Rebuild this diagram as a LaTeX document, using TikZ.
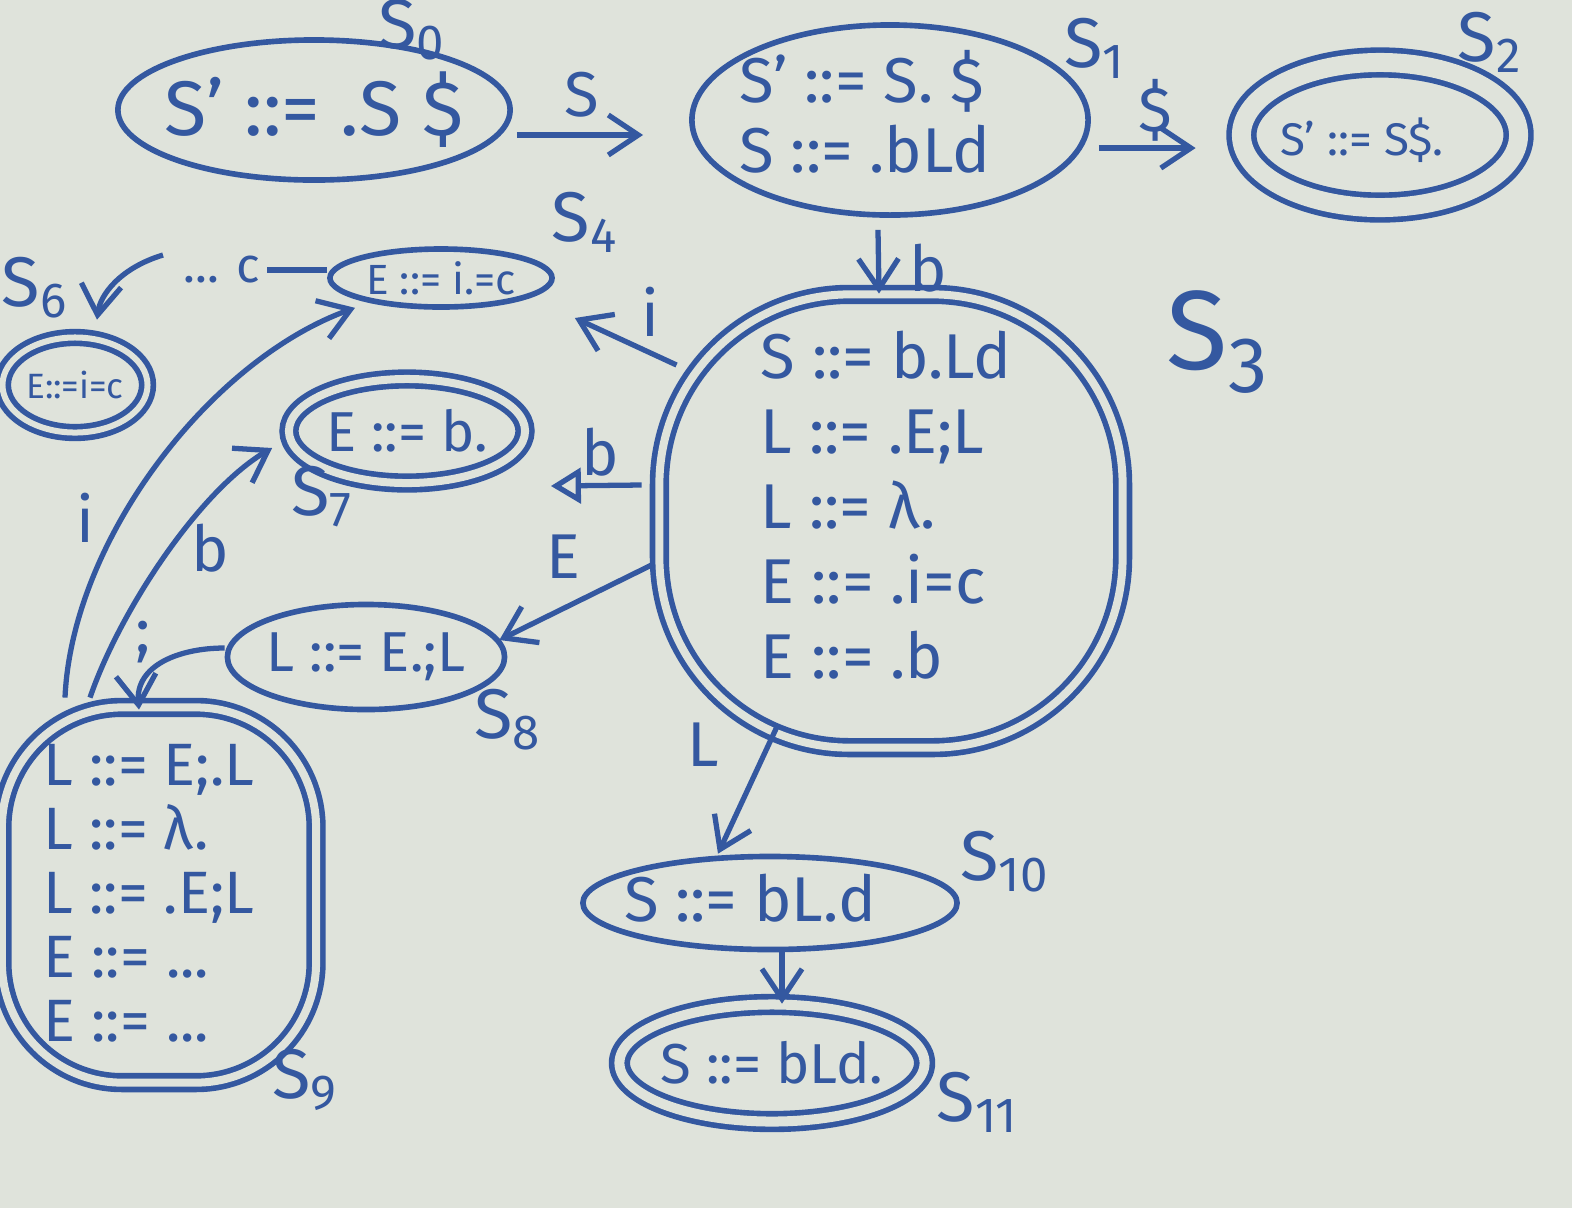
\documentclass[tikz,border=0pt]{standalone}
\usepackage{fontspec}
\setmainfont{Fira Sans}
\usetikzlibrary{shapes.geometric,arrows.meta}
\definecolor{ink}{RGB}{52,88,160}
\definecolor{board}{RGB}{223,227,219}
\newcommand\fsz[2]{\fontsize{#1}{#2}\selectfont}
\begin{document}
\begin{tikzpicture}[x=0.01cm,y=-0.01cm,
  st/.style={draw=ink,line width=1.6pt,ellipse,inner sep=0pt},
  acc/.style={st,double=board,double distance=#1},
  acc/.default=1.2mm,
  blob/.style={draw=ink,line width=1.6pt,rectangle,rounded corners=1.3cm,double=board,double distance=0.8mm,inner sep=0pt},
  txt/.style={text=ink,inner sep=0pt,align=left},
  edge/.style={draw=ink,line width=1.5pt,-{Straight Barb[length=3mm,width=4mm]}},
  link/.style={draw=ink,line width=1.5pt},
  elab/.style={text=ink,font=\fsz{18}{20}},
  slab/.style={text=ink,font=\fsz{20}{22}}]
\fill[board] (0,0) rectangle (1572,1208);
\useasboundingbox (0,0) rectangle (1572,1208);

% states
\node[st,minimum width=3.92cm,minimum height=1.4cm] (S0) at (314,110) {};
\node[txt,font=\fsz{22}{26}] (S0t) at (S0) {S' ::= .S \$};

\node[st,minimum width=3.96cm,minimum height=1.9cm] (S1) at (890,120) {};
\node[txt,font=\fsz{18}{20}] (S1t) at ([shift={(-25,-8)}]S1.center) {S' ::= S. \$\\S ::= .bLd};

\node[acc=1.9mm,minimum width=2.77cm,minimum height=1.45cm] (S2) at (1380,135) {};
\node[txt,font=\fsz{13}{15}] (S2t) at ([shift={(-18,5)}]S2.center) {S' ::= S\$.};

\node[blob,rounded corners=1.9cm,minimum width=4.63cm,minimum height=4.53cm] (S3) at (891,521) {};
\node[txt,font=\fsz{18}{21.3}] (S3t) at ([shift={(-5,-16)}]S3.center) {S ::= b.Ld\\L ::= .E;L\\L ::= λ.\\E ::= .i=c\\E ::= .b};

\node[st,minimum width=2.22cm,minimum height=0.58cm] (S4) at (441,278) {};
\node[txt,font=\fsz{12}{14}] (S4t) at (S4) {E ::= i.=c};

\node[acc=0.6mm,minimum width=1.45cm,minimum height=0.95cm] (S6) at (75,385) {};
\node[txt,font=\fsz{10}{12}] (S6t) at (S6) {E::=i=c};

\node[acc=0.8mm,minimum width=2.36cm,minimum height=1.04cm] (S7) at (407,431) {};
\node[txt,font=\fsz{16}{18}] (S7t) at (S7) {E ::= b.};

\node[st,minimum width=2.77cm,minimum height=1.05cm] (S8) at (366,657) {};
\node[txt,font=\fsz{16}{18}] (S8t) at (S8) {L ::= E.;L};

\node[blob,rounded corners=1.2cm,minimum width=3.14cm,minimum height=3.75cm] (S9) at (159,895) {};
\node[txt,font=\fsz{17}{18.2}] (S9t) at ([shift={(-10,-2)}]S9.center) {L ::= E;.L\\L ::= λ.\\L ::= .E;L\\E ::= ...\\E ::= ...};

\node[st,minimum width=3.74cm,minimum height=0.93cm] (S10) at (770,903) {};
\node[txt,font=\fsz{18}{20}] (S10t) at ([shift={(-20,-5)}]S10.center) {S ::= bL.d};

\node[acc=1mm,minimum width=3.05cm,minimum height=1.17cm] (S11) at (772,1063) {};
\node[txt,font=\fsz{16}{18}] (S11t) at (S11) {S ::= bLd.};

% state names
\node[slab] (n0) at (412,30) {S\textsubscript{0}};
\node[slab] (n1) at (1095,48) {S\textsubscript{1}};
\node[slab] (n2) at (1490,42) {S\textsubscript{2}};
\node[text=ink,font=\fsz{32}{34}] (n3) at (1218,342) {S\textsubscript{3}};
\node[slab] (n4) at (585,222) {S\textsubscript{4}};
\node[slab] (n6) at (35,288) {S\textsubscript{6}};
\node[slab] (n7) at (322,497) {S\textsubscript{7}};
\node[slab] (n8) at (508,720) {S\textsubscript{8}};
\node[slab] (n9) at (305,1080) {S\textsubscript{9}};
\node[slab] (n10) at (1005,862) {S\textsubscript{10}};
\node[slab] (n11) at (978,1102) {S\textsubscript{11}};

% transitions
\draw[edge] ([shift={(4,25)}]S0.east) -- ([shift={(-46,15)}]S1.west);
\node[elab] (l01) at (582,95) {S};
\draw[edge] ([shift={(8,28)}]S1.east) -- ([shift={(-43,13)}]S2.west);
\node[elab] (l12) at (1155,110) {\$};
\draw[edge] ([shift={(-12,12)}]S1.south) -- ([shift={(-12,2)}]S3.north);
\node[elab] (l13) at (928,268) {b};
\draw[edge] ([shift={(20,-156)}]S3.west) -- ([shift={(20,40)}]S4.east);
\node[elab] (l34) at (650,312) {i};
\draw[draw=ink,line width=1.5pt,-{Triangle[open,length=3mm,width=3.5mm]}] ([shift={(-15,-36)}]S3.west) -- ([shift={(23,55)}]S7.east);
\node[elab] (l37) at (600,452) {b};
\draw[edge] ([shift={(-5,44)}]S3.west) -- ([shift={(-8,-17)}]S8.east);
\node[elab] (l38) at (563,557) {E};
\draw[edge] ([shift={(-113,-26)}]S3.south) -- ([shift={(-52,0)}]S10.north);
\node[elab] (l310) at (703,745) {L};
\draw[edge] ([shift={(12,0)}]S10.south) -- ([shift={(10,2)}]S11.north);

\coordinate (c4a) at (267,270);
\coordinate (c4b) at (163,255);
\draw[link] ([shift={(0,-8)}]S4.west) -- (c4a);
\node[text=ink,font=\fsz{14}{16}] (l46) at (222,270) {... c};
\draw[edge] (c4b) .. controls (120,268) and (100,295) .. ([shift={(22,-15)}]S6.north);

\draw[edge] ([shift={(-94,-7)}]S9.north) .. controls (72,540) and (210,360) .. ([shift={(-86,-2)}]S4.south);
\node[elab] (l94) at (85,518) {i};
\draw[edge] ([shift={(-69,-7)}]S9.north) .. controls (120,610) and (200,490) .. ([shift={(-14,17)}]S7.west);
\node[elab] (l97) at (210,548) {b};
\draw[edge] ([shift={(0,-9)}]S8.west) .. controls (180,648) and (135,665) .. ([shift={(-20,5)}]S9.north);
\node[elab] (l89) at (143,642) {;};
\end{tikzpicture}
\end{document}
